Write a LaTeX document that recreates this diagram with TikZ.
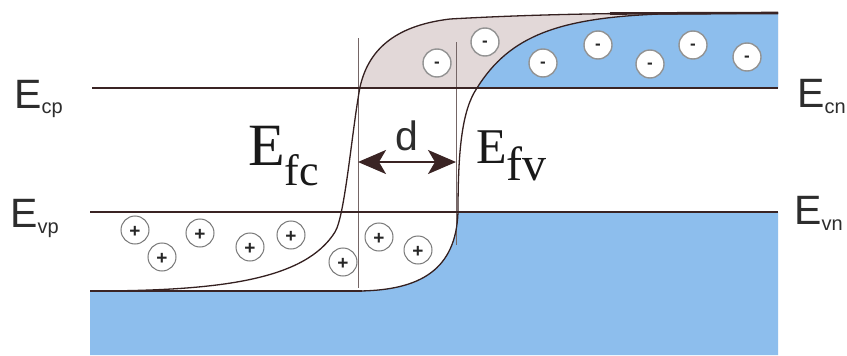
\documentclass[tikz,border=0pt]{standalone}
\usepackage{fontspec}
\setmainfont{Liberation Serif}
\newfontfamily\arialf{Liberation Sans}
\usetikzlibrary{arrows.meta}
\definecolor{bandblue}{RGB}{141,190,237}
\definecolor{fillgray}{RGB}{226,216,216}
\definecolor{linebrown}{RGB}{58,36,36}
\definecolor{labgray}{RGB}{45,45,45}
\definecolor{circgray}{RGB}{120,120,120}
\begin{document}
\begin{tikzpicture}[x=1pt,y=-1pt,
  bandline/.style={draw=linebrown,line width=2.6pt},
  thinline/.style={draw=linebrown!90!black,line width=1.3pt},
  guide/.style={draw=linebrown!70,line width=0.7pt},
  hole/.style={circle,draw=circgray,line width=1pt,fill=white,minimum size=28pt,inner sep=0pt,
    font=\arialf\fontsize{19}{19}\selectfont\bfseries,text=black!85,text height=14.8pt,text depth=0pt},
  elec/.style={circle,draw=circgray!80,line width=1.4pt,fill=white,minimum size=28pt,inner sep=0pt,
    font=\arialf\fontsize{17}{17}\selectfont\bfseries,text=black!85,text height=9pt,text depth=0pt},
  sanslab/.style={anchor=base west,inner sep=0pt,text=labgray,font=\arialf\fontsize{41}{41}\selectfont},
  seriflab/.style={anchor=base west,inner sep=0pt,text=black!90},
  darrow/.style={draw=linebrown,line width=2pt,{Stealth[length=28pt,width=24pt,inset=7pt]}-{Stealth[length=28pt,width=24pt,inset=7pt]}}
]
\useasboundingbox (0,0) rectangle (847,356);
\fill[white] (0,0) rectangle (847,356);

% gray region between the two curves (above E_c)
\fill[fillgray] (360,88) .. controls (368,52) and (392,26) .. (450,19)
  .. controls (520,15) and (600,13) .. (700,13) -- (778,13) -- (778,88) -- cycle;
% blue conduction band region (n side)
\fill[bandblue] (477,88) .. controls (510,35) and (560,18) .. (660,14) -- (778,13) -- (778,88) -- cycle;
% blue valence band region
\fill[bandblue] (90,291) -- (360,291) .. controls (420,290) and (456,270) .. (458,212)
  -- (778,212) -- (778,355) -- (90,355) -- cycle;

% guide verticals
\coordinate (g1t) at (358,38);
\coordinate (g1b) at (358,288);
\coordinate (g2t) at (456,42);
\coordinate (g2b) at (456,245);
\draw[guide] (g1t) -- (g1b);
\draw[guide] (g2t) -- (g2b);

% band edge lines
\coordinate (ecl) at (92,88);
\coordinate (ecr) at (778,88);
\coordinate (evl) at (90,212);
\coordinate (evr) at (778,212);
\draw[bandline] (ecl) -- (ecr);
\draw[bandline] (evl) -- (evr);

% E_fc curve
\draw[thinline] (90,291) .. controls (220,291) and (305,280) .. (335,232)
  .. controls (345,216) and (352,130) .. (360,87)
  .. controls (368,52) and (392,26) .. (450,19)
  .. controls (520,15) and (600,13) .. (700,13) -- (778,13);
% E_fv curve
\draw[thinline] (360,291) .. controls (420,290) and (456,270) .. (458,212)
  .. controls (458,150) and (462,110) .. (477,88)
  .. controls (510,35) and (560,18) .. (660,14) -- (778,13);
% thick band edges
\draw[bandline] (90,291) -- (362,291);
\draw[bandline] (610,13.5) -- (778,13);

% holes
\node[hole] (h1) at (135,230) {+};
\node[hole] (h2) at (162,257) {+};
\node[hole] (h3) at (200,233) {+};
\node[hole] (h4) at (250,247) {+};
\node[hole] (h5) at (291,235) {+};
\node[hole] (h6) at (343,262) {+};
\node[hole] (h7) at (379,237) {+};
\node[hole] (h8) at (418,250) {+};

% electrons
\node[elec] (e1) at (437,63) {-};
\node[elec] (e2) at (485,42) {-};
\node[elec] (e3) at (543,63) {-};
\node[elec] (e4) at (598,45) {-};
\node[elec] (e5) at (650,64) {-};
\node[elec] (e6) at (693,45) {-};
\node[elec] (e7) at (747,57) {-};

% d arrow
\coordinate (dl) at (358,162);
\coordinate (dr) at (456,162);
\draw[darrow] (dl) -- (dr);
\node[sanslab] (dlab) at (395,150) {d};

% side labels
\node[sanslab] (ecp) at (14,108) {E\raisebox{-5pt}{\fontsize{20}{20}\selectfont cp}};
\node[sanslab] (evp) at (10,227) {E\raisebox{-6pt}{\fontsize{20}{20}\selectfont vp}};
\node[sanslab] (ecn) at (797,107) {E\raisebox{-6pt}{\fontsize{20}{20}\selectfont cn}};
\node[sanslab] (evn) at (794,224) {E\raisebox{-6pt}{\fontsize{20}{20}\selectfont vn}};

% quasi Fermi level labels
\node[seriflab,font=\fontsize{60}{60}\selectfont] (efc) at (248,165)
  {E\raisebox{-20pt}{\fontsize{44}{44}\selectfont fc}};
\node[seriflab,font=\fontsize{50}{50}\selectfont] (efv) at (476,163)
  {E\raisebox{-17pt}{\fontsize{48}{48}\selectfont fv}};
\end{tikzpicture}
\end{document}
